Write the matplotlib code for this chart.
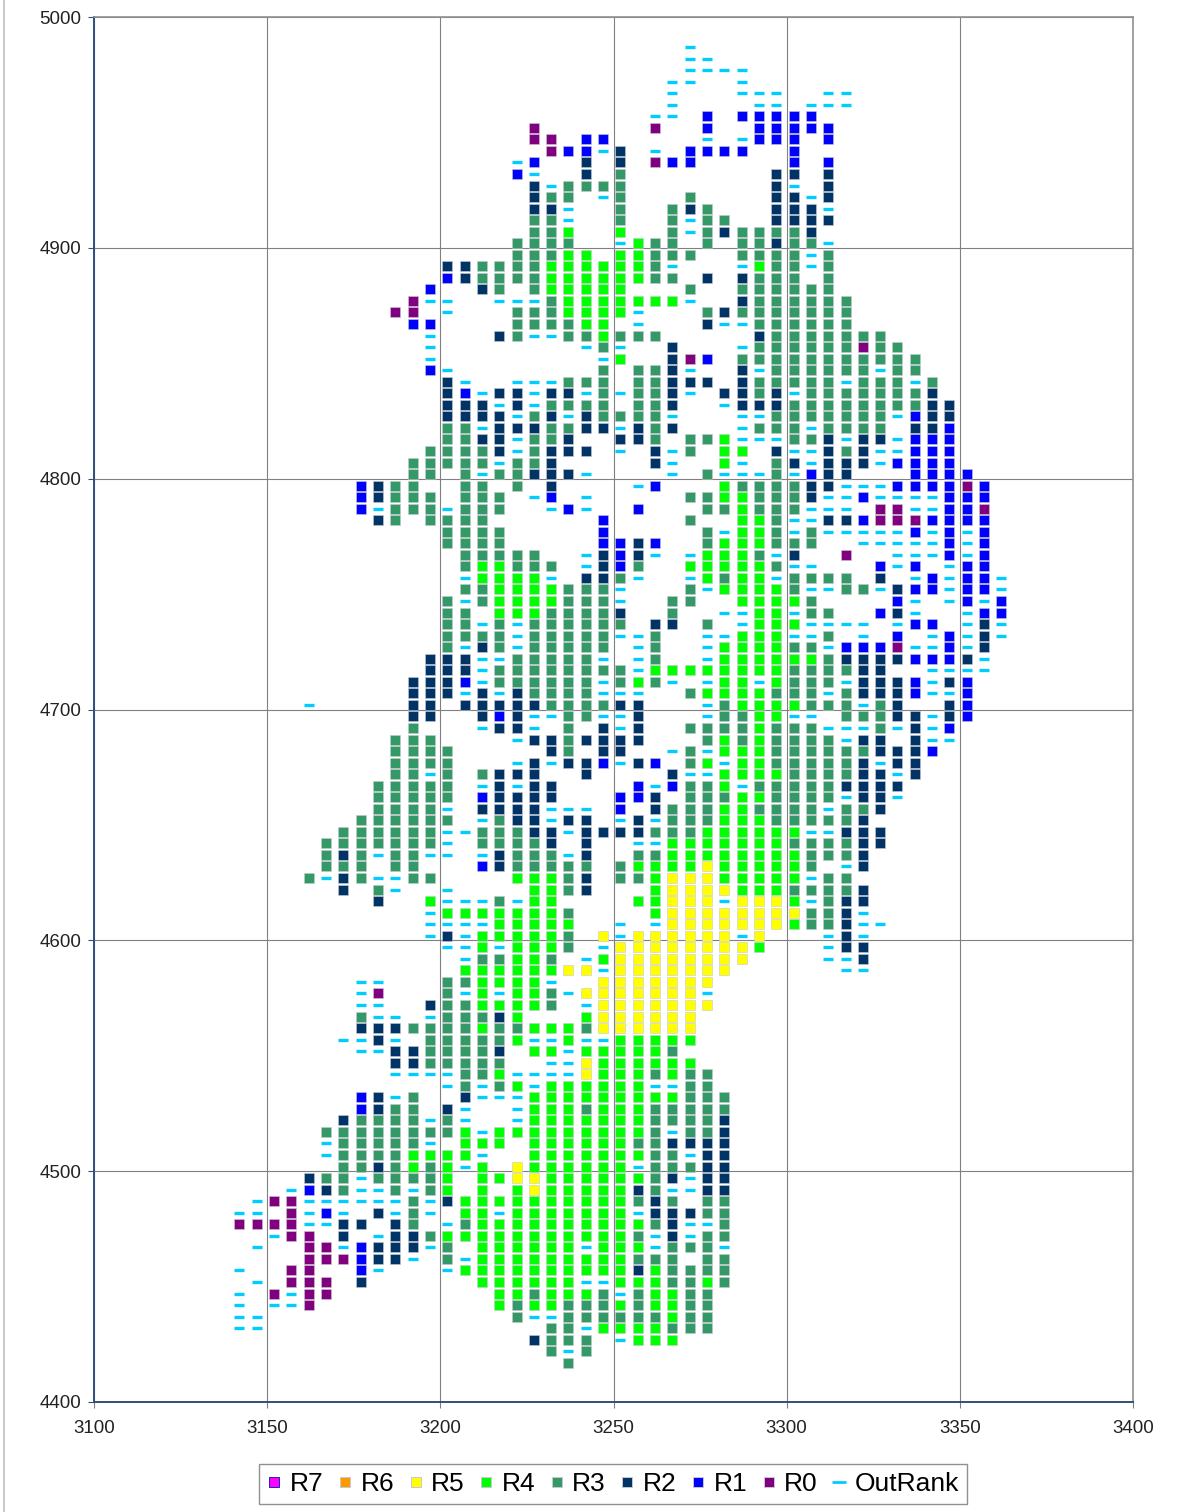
import matplotlib
matplotlib.use('Agg')
import matplotlib.pyplot as plt
from matplotlib.lines import Line2D

# cell grid, x = 3142 + 5*col, y = 4987 - 5*row
# marks: - OutRank, 0 R0, 1 R1, 2 R2, 3 R3, 4 R4, 5 R5, . empty
col_x = list(range(3142, 3367, 5))
row_y = list(range(4987, 4412, -5))

first_col = [
    26, 26, 26, 25, 25, 25, 24, 17, 17, 18,
    16, 16, 17, 17, 17, 17, 17, 16, 16, 12,
    12, 11, 10, 9, 10, 11, 11, 11, 11, 12,
    12, 12, 12, 12, 12, 11, 10, 10, 7, 7,
    7, 8, 12, 12, 13, 13, 13, 13, 12, 12,
    12, 12, 12, 11, 11, 10, 10, 4, 10, 10,
    9, 9, 9, 9, 8, 8, 8, 7, 6, 5,
    5, 5, 4, 6, 8, 11, 11, 11, 12, 13,
    13, 7, 7, 7, 7, 7, 6, 7, 9, 9,
    12, 7, 7, 6, 5, 5, 5, 6, 4, 3,
    1, 0, 0, 2, 1, 4, 0, 1, 0, 0,
    0, 0, 17, 18, 19,
]

marks = [
    "-", "--", "----", "--..-", "-...---..--", "-....--.---", "--.1.11111",
    "0......0..1..11111", "00.11.....-.-111.1", "011-2.-.1111..1",
    "-1..2.2.011.....1.1", "1-..2.3........22.2", "2-3333........2-.2",
    "233.-3...3....22-2", "22-..3..323...222-", "33-..3..3-33..2222",
    "334..4..3-3233332", "3333..-433.3.33233-", "33344.44333..3333-3",
    "2233334444443-...-433-3", "12333344444433.2.2333.3",
    "1..23.344444...3..333333", "0--..---34444444-..2333333",
    "00.-...3334444-...323333333", "11....333344.-...2--333333",
    "-...23--334333.....23333333", "-........-3-..2...-333333033",
    "-.........-4..201.33333333333", "1-........3.332-..2-333333-33",
    "2-..---333.33222.233333-333-3", "21-22-22-3-332-.2232-33333332",
    "222-2-3333.332..-2223333333322", "2222-32-23333-...--3333333-122",
    "33-2223322-232...-333-3333.221", "3322-332..223.334---332-22-111",
    "33332-3222.-.2-3.44.2--232--111", "33333-332.....2-..4-.32-222-1111",
    "33.3-33222-....-.3---3-122...1111", "1233..33.3.2....-1...4333322---111101",
    "12333.333.-1.-.....33443332--1----111", "1-333-333..-1-..1...334333---.00--110",
    "23.3333......1....3..443--2210001111", "3333.....1.....3-443-3-----1-1-1",
    "3333.....1121..3444333..-----1-1", "33333..-212-.-4443-2..0..---1-1",
    "344333.-213..444443--...1-1.-11", "-4444-.223-..-4344-3333.2.-1-11-",
    "334444333-...3-44443--33-211-11-", "3-34444333-..33..44443....1-.-1-1",
    "33.44433332..3..--44-33..12-..-11", "33-3-333333.22.3.-444----.-11.-2-",
    "3333-33333--3..--444--3.-.1.-1-2-", "3-23-33333.-3..-444433-1110--1-2",
    "222--33333-.-3..-444444322221112-", "222-33333333-44444444333322..----",
    "2221-333333-343-.-44-4333-2221-21", "222-2-23333---..34444333-32221--1",
    "-.....22.22222333322...-34444333-32..21", "22..212--33--2...-3344--.33322-21",
    "3...-22-.3.2-2..33334333---3-2-1", "333....-2232222...34343333-22.2--",
    "3333.....23.22..-3-4443333332221", "3333...-2-221-21.34-44333332-22",
    "33-3.3222..2....2--4444333322-2", "33333.-2-22....1-1334-333332222",
    "33333.12222...112.333443333-22-", "3333-.2222---.1.2333443333-332",
    "333333.-322-22.-2-333444333332", "333333--33322-2222333444444--222",
    "3333333-.33332.2..--4444444333322", "323-33--.-2333-2..33444444443332",
    "333.33...1233333.344445444443.-2", "3-23--33....44432.33455544444-33",
    "2.3-..-....4432...4555544433332", "2..4---3-44....44555-5554-322",
    "-44444443....455555555332-", "----44444..-.-55555554332--",
    "-2-444443.5-555555-5...-2-", "--4-4443.-555555554...-22",
    "-33443.-455555555....--2", "44444455-5555555......--",
    "--...334444-..5555555", "-0...3-4-443-5555555-",
    "--..23344443.-5555555", "3--.-33324...4555555",
    "22233334334443555555", "--2-.333334--4--44444",
    "--2233332.44-444443", "2233333..--5444444",
    "----334----54443433", "-3-34-444444--33",
    "12-3..2---444444444333", "1233.2-..-444344433333",
    "23333-3-..-444444433332", "333333334-4444444443-332",
    "-33333-.444.444444332222", "-33334444-..444444433-22",
    "3323434-4.5444444-33322", "233-33334.445544444432-22",
    "-123--3-34.4.454444423--22", "-00------3-24444444444323.33",
    "--.0-1-.2-3-.44-4444444-22233", "0000--22.23.-3444444444432--3",
    "-00.2.-223444444444443-2-33", "-..00-1222-3.444444-444-333-",
    "000122-.3-444444444333.33", "-..00..1-...-4444444444243333",
    "-.000.2......444444--4443343", "-.0-00.........4434443-34433",
    "-.--0..........4344333434433", "--..............3--333333433",
    "--................33-4444333", "2333.-444", "3-3", "3",
]

ranks = ['R7', 'R6', 'R5', 'R4', 'R3', 'R2', 'R1', 'R0', 'OutRank']
rank_marks = ['7', '6', '5', '4', '3', '2', '1', '0', '-']
rank_colors = ['#FF00FF', '#FF9900', '#FFFF00', '#00FF00', '#339966',
               '#003366', '#0000FF', '#800080', '#00CCFF']

xticks = [3100, 3150, 3200, 3250, 3300, 3350, 3400]
yticks = [4400, 4500, 4600, 4700, 4800, 4900, 5000]

plt.rcParams['font.family'] = ['Liberation Sans', 'DejaVu Sans']

W, H = 1194, 1512
fig = plt.figure(figsize=(W / 100, H / 100), dpi=100)
ax = fig.add_axes([94 / W, 1 - 1402 / H, (1133 - 94) / W, (1402 - 17) / H])

# split the grid into one x/y list per rank
for name, mk, col in zip(ranks, rank_marks, rank_colors):
    xs, ys = [], []
    for y, start, row in zip(row_y, first_col, marks):
        for j, c in enumerate(row):
            if c == mk:
                xs.append(col_x[start + j])
                ys.append(y)
    if mk == '-':
        ax.plot(xs, ys, ls='none', marker='_', ms=7.8, mew=2.4, color=col,
                label=name, zorder=3)
    else:
        ax.plot(xs, ys, ls='none', marker='s', ms=7.7, mew=0.4,
                mec='#c8c8d0', color=col, label=name, zorder=3)

ax.set_xlim(3100, 3400)
ax.set_ylim(4400, 5000)
ax.set_xticks(xticks)
ax.set_yticks(yticks)
ax.grid(True, color='#808080', lw=0.8)
ax.set_axisbelow(True)
ax.tick_params(axis='both', labelsize=13.5, length=0, pad=9, labelcolor='#222222')
ax.tick_params(axis='y', length=4, color='#2f4f7f', pad=5)
ax.tick_params(axis='x', length=4, color='#808080', pad=9)

for s in ['top', 'right']:
    ax.spines[s].set_color('#909090')
    ax.spines[s].set_linewidth(1.2)
for s in ['left', 'bottom']:
    ax.spines[s].set_color('#2f4f7f')
    ax.spines[s].set_linewidth(1.4)

handles, labels = ax.get_legend_handles_labels()
handles = [
    Line2D([], [], ls='none', marker=h.get_marker(), ms=7.5 if h.get_marker() == 's' else 10,
           mew=2 if h.get_marker() == '_' else 0.7,
           mec=rank_colors[i] if h.get_marker() == '_' else ('#2020c0' if i == 0 else '#c8c8d0'),
           color=rank_colors[i])
    for i, h in enumerate(handles)
]
leg = fig.legend(handles, labels, ncol=9, loc='center',
                 bbox_to_anchor=(613 / W, 1 - 1484 / H), fontsize=19,
                 frameon=True, fancybox=False, edgecolor='#909090', framealpha=1,
                 handlelength=0.55, handletextpad=0.31, columnspacing=0.54,
                 borderpad=0.32, borderaxespad=0)
leg.get_frame().set_linewidth(1.0)

# pale frame edge on the left side of the picture
fig.add_artist(Line2D([4 / W, 4 / W], [0, 1], color='#c0c0c0', lw=1.2))

plt.savefig('out.png', dpi=100)
